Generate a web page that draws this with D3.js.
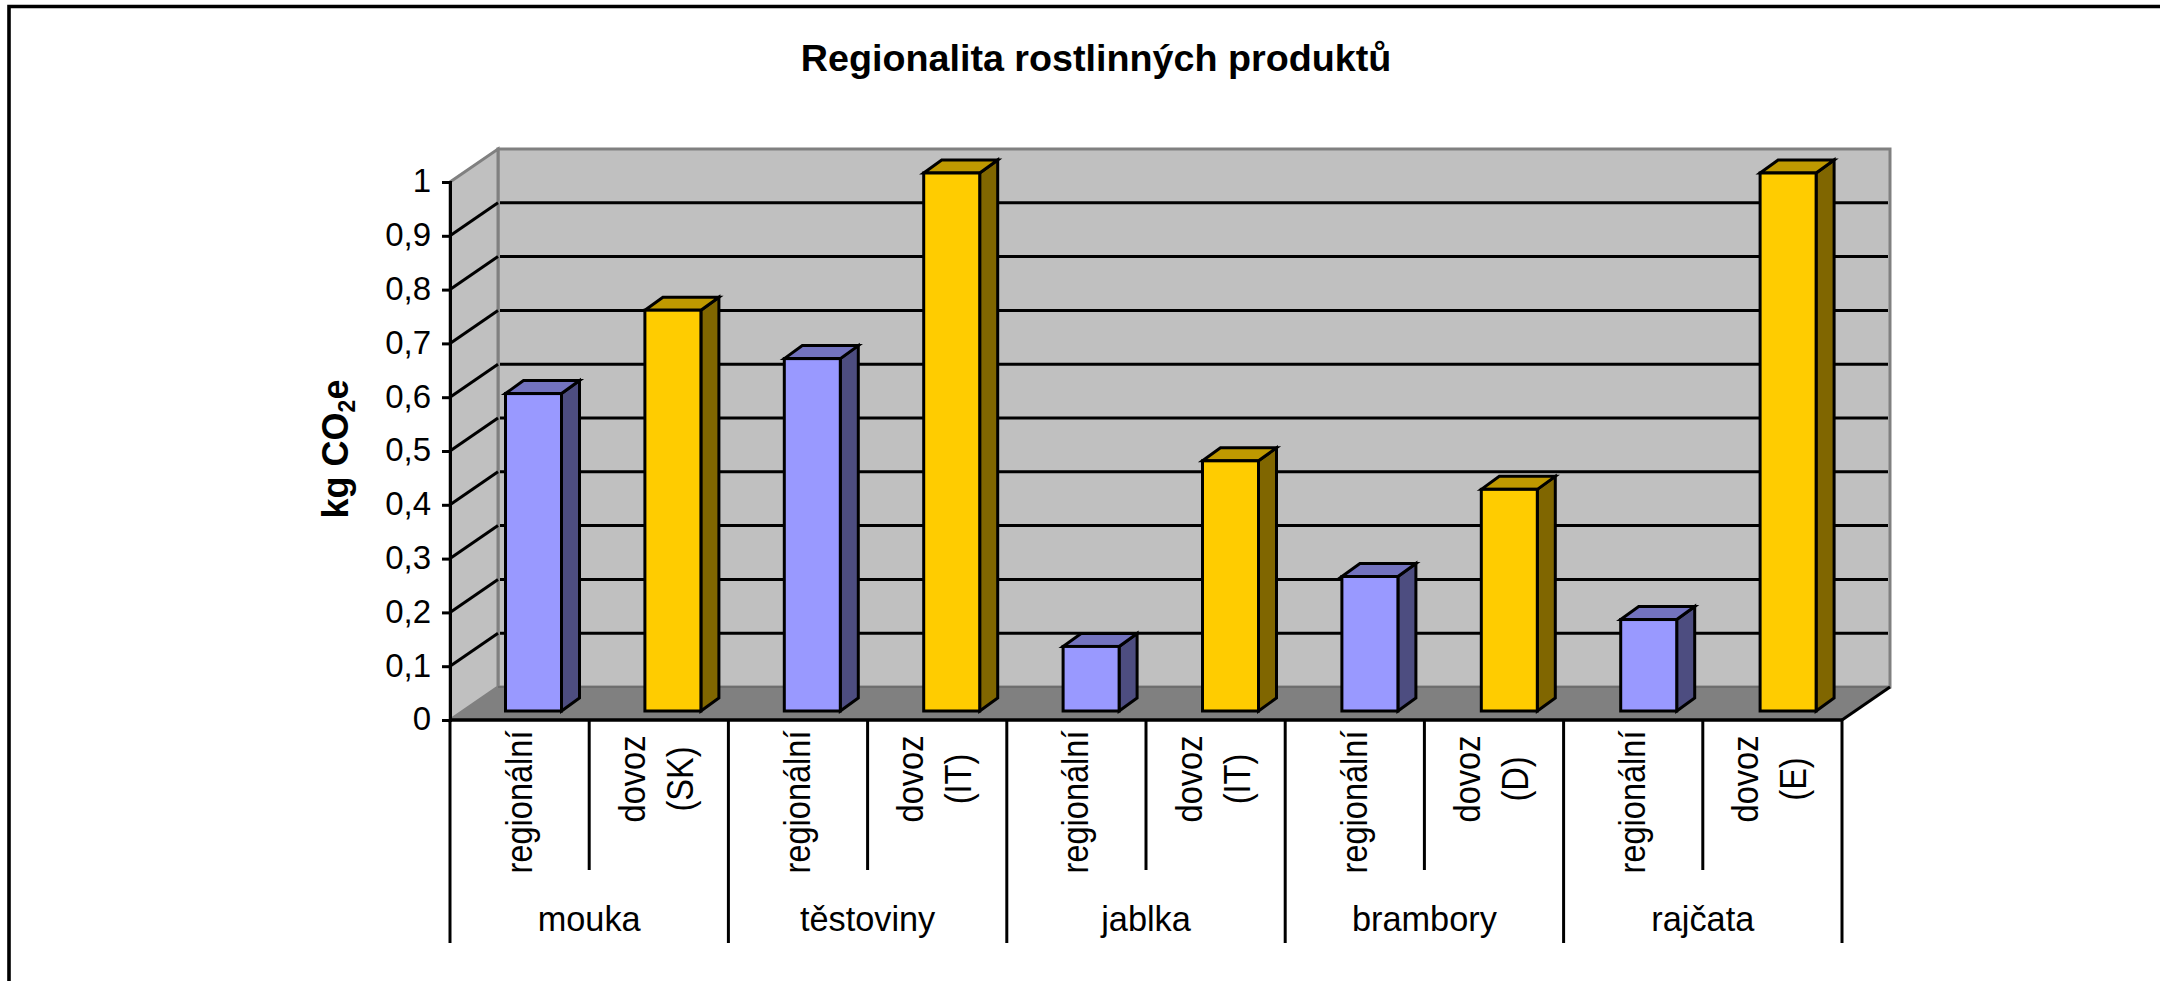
<!DOCTYPE html>
<html lang="cs">
<head>
<meta charset="utf-8">
<title>Regionalita rostlinných produktů</title>
<script src="https://cdn.jsdelivr.net/npm/d3@7/dist/d3.min.js"></script>
<style>
html,body{margin:0;padding:0;background:#fff;overflow:hidden}
svg{display:block}
text{font-family:"Liberation Sans",Arial,sans-serif;fill:#000}
</style>
</head>
<body>
<svg id="chart" width="2160" height="981"></svg>
<script>
const chartTitle = "Regionalita rostlinných produktů";
const groups = ["mouka","těstoviny","jablka","brambory","rajčata"];
const barLabels = [
  ["regionální"],["dovoz","(SK)"],
  ["regionální"],["dovoz","(IT)"],
  ["regionální"],["dovoz","(IT)"],
  ["regionální"],["dovoz","(D)"],
  ["regionální"],["dovoz","(E)"]
];
const values = [0.59,0.745,0.655,1,0.12,0.465,0.25,0.412,0.17,1];
const yTicks = [0,0.1,0.2,0.3,0.4,0.5,0.6,0.7,0.8,0.9,1];

const svg = d3.select("#chart");
const left=450,right=1842,y0=720,y1=182,depthX=48,depthY=-33;
const barInset=55.5,barW=56,barDX=18,barDY=-13,barBase=-9;
const y = d3.scaleLinear().domain([0,1]).range([y0,y1]);
const x = d3.scaleBand().domain(d3.range(values.length)).range([left,right]);
const xBar = d3.scaleBand().domain(d3.range(values.length)).range([left,right+2]);
const gx = d3.scaleBand().domain(groups).range([left,right]);
const poly = p => p.map(q=>q.join(",")).join(" ");
// the reference's glyphs are narrower along the baseline than their height implies
const squeeze = (sel,k) => sel.attr("lengthAdjust","spacingAndGlyphs")
  .attr("textLength",function(){return this.getComputedTextLength()*k;});

// frame
svg.append("path").attr("d","M9,981V6.5H2160").attr("fill","none").attr("stroke","#000").attr("stroke-width",3.6);

// walls
svg.append("polygon").attr("points",poly([[left+depthX,y1+depthY],[right+depthX,y1+depthY],[right+depthX,y0+depthY],[left+depthX,y0+depthY]]))
  .attr("fill","#C0C0C0").attr("stroke","#808080").attr("stroke-width",3);
svg.append("polygon").attr("points",poly([[left,y1],[left+depthX,y1+depthY],[left+depthX,y0+depthY],[left,y0]]))
  .attr("fill","#C0C0C0").attr("stroke","#808080").attr("stroke-width",3);
// gridlines
const gridTicks = yTicks.filter(t=>t>0&&t<1);
svg.append("g").selectAll("path").data(gridTicks).join("path")
  .attr("d",t=>`M${left},${y(t)}L${left+depthX},${y(t)+depthY}`).attr("stroke","#000").attr("stroke-width",3).attr("fill","none");
svg.append("g").selectAll("line").data(gridTicks).join("line")
  .attr("x1",left+depthX+2).attr("x2",right+depthX-2).attr("y1",t=>y(t)+depthY).attr("y2",t=>y(t)+depthY)
  .attr("stroke","#000").attr("stroke-width",3);
// floor
svg.append("polygon").attr("points",poly([[left,y0],[left+depthX,y0+depthY],[right+depthX,y0+depthY],[right,y0]]))
  .attr("fill","#808080");
svg.append("line").attr("x1",left+depthX).attr("x2",right+depthX).attr("y1",y0+depthY).attr("y2",y0+depthY).attr("stroke","#6e6e6e").attr("stroke-width",2);
svg.append("line").attr("x1",right).attr("x2",right+depthX).attr("y1",y0).attr("y2",y0+depthY).attr("stroke","#000").attr("stroke-width",3);

// bars
const palette = [
  {front:"#9999FF",top:"#7373BF",side:"#4D4D80"},
  {front:"#FFCC00",top:"#BF9900",side:"#806600"}
];
const bars = svg.append("g").selectAll("g").data(values).join("g")
  .attr("stroke","#000").attr("stroke-width",3).attr("stroke-linejoin","miter");
const bx = i => xBar(i)+barInset;
const by = d => y(d)+barBase;
const b0 = y(0)+barBase;
bars.append("polygon").attr("fill",(d,i)=>palette[i%2].side)
  .attr("points",(d,i)=>poly([[bx(i)+barW,by(d)],[bx(i)+barW+barDX,by(d)+barDY],[bx(i)+barW+barDX,b0+barDY],[bx(i)+barW,b0]]));
bars.append("polygon").attr("fill",(d,i)=>palette[i%2].top)
  .attr("points",(d,i)=>poly([[bx(i),by(d)],[bx(i)+barDX,by(d)+barDY],[bx(i)+barW+barDX,by(d)+barDY],[bx(i)+barW,by(d)]]));
bars.append("rect").attr("fill",(d,i)=>palette[i%2].front)
  .attr("x",(d,i)=>bx(i)).attr("y",d=>by(d)).attr("width",barW).attr("height",d=>b0-by(d));

// y axis
const yAxis = d3.axisLeft(y).tickValues(yTicks).tickSize(8).tickPadding(11)
  .tickFormat(t=>d3.format(".1~f")(t).replace(".",","));
const ya = svg.append("g").attr("transform",`translate(${left},0)`).call(yAxis);
ya.selectAll("path,line").attr("stroke","#000").attr("stroke-width",3);
ya.attr("font-family",null).attr("font-size",null);
ya.selectAll("text").attr("font-size",33).attr("dy","0.3em");

// x axis
svg.append("line").attr("x1",left).attr("x2",right).attr("y1",y0).attr("y2",y0).attr("stroke","#000").attr("stroke-width",3.5);
const groupEdges = groups.map(g=>gx(g)).concat([right]);
svg.append("g").selectAll("line").data(groupEdges).join("line")
  .attr("x1",d=>d).attr("x2",d=>d).attr("y1",y0).attr("y2",943).attr("stroke","#000").attr("stroke-width",3);
svg.append("g").selectAll("line").data(groups).join("line")
  .attr("x1",g=>gx(g)+gx.bandwidth()/2).attr("x2",g=>gx(g)+gx.bandwidth()/2).attr("y1",y0).attr("y2",870).attr("stroke","#000").attr("stroke-width",3);
svg.append("g").selectAll("text").data(groups).join("text")
  .attr("x",g=>gx(g)+gx.bandwidth()/2).attr("y",931).attr("text-anchor","middle").attr("font-size",35).text(g=>g)
  .call(squeeze,0.98);

// rotated bar labels
const lab = svg.append("g").selectAll("g").data(barLabels).join("g")
  .attr("transform",(d,i)=>`translate(${x(i)+x.bandwidth()/2},${d.length>1?779:802}) rotate(-90)`);
lab.selectAll("text").data(d=>d.map((s,k)=>({s,k,n:d.length}))).join("text")
  .attr("text-anchor","middle").attr("font-size",37)
  .attr("y",d=>d.n>1?(d.k===0?-14:34):12)
  .text(d=>d.s)
  .call(squeeze,0.88);

// titles
svg.append("text").attr("x",1096).attr("y",71).attr("text-anchor","middle")
  .attr("font-size",37.7).attr("font-weight","bold").text(chartTitle);
const yt = svg.append("text").attr("transform","translate(348,449) rotate(-90)").attr("text-anchor","middle")
  .attr("font-size",36).attr("font-weight","bold");
yt.append("tspan").text("kg CO");
yt.append("tspan").attr("font-size",23).attr("dy",7).text("2");
yt.append("tspan").attr("dy",-7).text("e");
</script>
</body>
</html>
